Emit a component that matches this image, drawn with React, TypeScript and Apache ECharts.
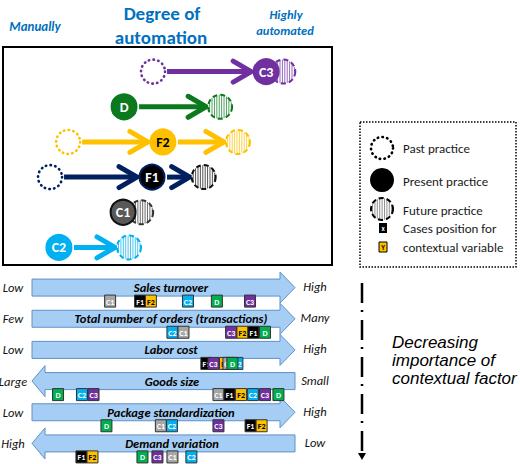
import React, { useEffect, useRef } from 'react';
import * as echarts from 'echarts';

// 自动化程度：0 = 手工，100 = 高度自动化
const automationCases = ['C3', 'D', 'F2', 'F1', 'C1', 'C2'];
const pastPractice = [45.6, null, 19.8, 14.3, null, null];
const presentPractice = [80, 36.8, 48.6, 45.3, 36.5, 17];
const futurePractice = [85.2, 66, 71.4, 61, 42, 38.3];

// 情境因素（箭头）
const factors = [
  'Sales turnover',
  'Total number of orders (transactions)',
  'Labor cost',
  'Goods size',
  'Package standardization',
  'Demand variation',
];
const factorLeftLabel = ['Low', 'Few', 'Low', 'Large', 'Low', 'High'];
const factorRightLabel = ['High', 'Many', 'High', 'Small', 'High', 'Low'];
const factorPointsLeft = [false, false, false, true, false, true];

// 各案例在情境因素箭头上的位置（0..100，从左到右），按绘制顺序
const salesTurnover: [string, number][] = [['C1', 29.7], ['F1', 41.1], ['F2', 45.2], ['C2', 59.3], ['D', 70.3], ['C3', 82.9]];
const orderCount: [string, number][] = [['C2', 53.4], ['C1', 57.6], ['C3', 75.7], ['F2', 80], ['F1', 84.2], ['D', 88.6]];
const laborCost: [string, number][] = [['F1', 66.3], ['C3', 69], ['F2', 73.4], ['C1', 74.7], ['C2', 78.1], ['D', 76.2]];
const goodsSize: [string, number][] = [['D', 9.9], ['C2', 19], ['C3', 23.4], ['C1', 70.9], ['F1', 75.1], ['F2', 79.5], ['C2', 84], ['C3', 88.6], ['D', 93.7]];
const packageStandard: [string, number][] = [['D', 28.3], ['C1', 49], ['C2', 53.2], ['C3', 70.9], ['F1', 83.1], ['F2', 87.3]];
const demandVariation: [string, number][] = [['F1', 18.8], ['F2', 23], ['D', 42], ['C3', 47.7], ['C1', 53.4], ['C2', 60.6]];
const casePositions = [salesTurnover, orderCount, laborCost, goodsSize, packageStandard, demandVariation];

const CAL = 'Carlito, Lato, sans-serif';
const BLUE = '#0070C0';

const caseFill: Record<string, string> = { C1: '#595959', C2: '#00B0F0', C3: '#7030A0', D: '#0B7A1F', F1: '#000000', F2: '#FFC000' };
const caseBorder: Record<string, string> = { C1: '#111111', C2: '#00B0F0', C3: '#7030A0', D: '#0B7A1F', F1: '#002060', F2: '#FFC000' };
const arrowColor: Record<string, string> = { C1: '#595959', C2: '#00B0F0', C3: '#7030A0', D: '#0B7A1F', F1: '#002060', F2: '#FFC000' };
const futureColor: Record<string, string> = { C1: '#333333', C2: '#00B0F0', C3: '#7030A0', D: '#0B7A1F', F1: '#111111', F2: '#FFC000' };
const badgeFill: Record<string, string> = { C1: '#A6A6A6', C2: '#00B0F0', C3: '#7030A0', D: '#00B050', F1: '#000000', F2: '#FFC000' };

const badgeCases: string[] = [];
const badgeData: number[][] = [];
casePositions.forEach((list, row) => {
  list.forEach(([c, pos]) => {
    badgeCases.push(c);
    badgeData.push([pos, row]);
  });
});

const stripedCircle = (cx: number, cy: number, r: number, stripe: string, outline: string) => {
  const kids: any[] = [{ type: 'circle', shape: { cx, cy, r }, style: { fill: '#fff' } }];
  for (let dx = -r + 1.5; dx < r - 0.5; dx += 2.4) {
    const h = Math.sqrt(r * r - dx * dx);
    kids.push({
      type: 'line',
      shape: { x1: cx + dx, y1: cy - h, x2: cx + dx, y2: cy + h },
      style: { stroke: stripe, lineWidth: 0.9, opacity: 0.8 },
    });
  }
  kids.push({ type: 'circle', shape: { cx, cy, r }, style: { fill: 'none', stroke: outline, lineWidth: 2, lineDash: [5, 3] } });
  return kids;
};

const dottedCircle = (cx: number, cy: number, r: number, color: string) => ({
  type: 'circle',
  shape: { cx, cy, r },
  style: { fill: '#fff', stroke: color, lineWidth: 2.6, lineDash: [0.5, 4.2], lineCap: 'round' },
});

const txt = (text: string, x: number, y: number, font: string, fill: string, align = 'center') => ({
  type: 'text',
  style: { text, x, y, font, fill, textAlign: align, align, textVerticalAlign: 'middle', verticalAlign: 'middle' },
});

// 顶部：各案例的过去/现在/未来实践
const renderCase = (params: any, api: any) => {
  const i = params.dataIndex;
  const name = automationCases[i];
  const y = api.coord([0, i])[1];
  const stages: { x: number; r: number }[] = [];
  const past = pastPractice[i];
  const pastX = past == null ? null : api.coord([past, i])[0];
  const presentX = api.coord([presentPractice[i], i])[0];
  const futureX = api.coord([futurePractice[i], i])[0];
  if (pastX != null) stages.push({ x: pastX, r: 12 });
  stages.push({ x: presentX, r: 13 });
  stages.push({ x: futureX, r: 12 });
  const children: any[] = [];
  const col = arrowColor[name];
  for (let k = 0; k < stages.length - 1; k++) {
    const start = stages[k].x + stages[k].r + 2;
    const tip = stages[k + 1].x - stages[k + 1].r - 2;
    if (tip - start < 20) continue;
    children.push({ type: 'line', shape: { x1: start, y1: y, x2: tip - 3, y2: y }, style: { stroke: col, lineWidth: 5 } });
    children.push({
      type: 'polyline',
      shape: { points: [[tip - 18, y - 10.5], [tip, y], [tip - 18, y + 10.5]] },
      style: { stroke: col, lineWidth: 5, fill: 'none', lineJoin: 'miter', lineCap: 'round' },
    });
  }
  if (pastX != null) children.push(dottedCircle(pastX, y, 12, col));
  children.push(...stripedCircle(futureX, y, 12, futureColor[name], futureColor[name]));
  children.push({ type: 'circle', shape: { cx: presentX, cy: y, r: 12.5 }, style: { fill: caseFill[name], stroke: caseBorder[name], lineWidth: 2 } });
  children.push(txt(name, presentX, y + 0.5, `bold 14px ${CAL}`, name === 'F2' ? '#000' : '#fff'));
  return { type: 'group', children };
};

// 底部：情境因素箭头
const renderFactor = (params: any, api: any) => {
  const i = params.dataIndex;
  const [x0, y] = api.coord([0, i]);
  const x1 = api.coord([100, i])[0];
  const bh = 8.5;
  const hh = 15.5;
  let pts: number[][];
  let mid: number;
  if (factorPointsLeft[i]) {
    const hb = x0 + 13;
    pts = [[x1, y - bh], [hb, y - bh], [hb, y - hh], [x0, y], [hb, y + hh], [hb, y + bh], [x1, y + bh]];
    mid = (hb + x1) / 2 + 2;
  } else {
    const hb = x1 - 15;
    pts = [[x0, y - bh], [hb, y - bh], [hb, y - hh], [x1, y], [hb, y + hh], [hb, y + bh], [x0, y + bh]];
    mid = (x0 + hb) / 2 + 15;
  }
  return {
    type: 'group',
    children: [
      { type: 'polygon', shape: { points: pts }, style: { fill: '#A6CDF3', stroke: '#5E92C9', lineWidth: 1 } },
      txt(factors[i], mid, y, `italic bold 12.5px ${CAL}`, '#000'),
      txt(factorLeftLabel[i], x0 - 19, y, `italic 12.5px ${CAL}`, '#111'),
      txt(factorRightLabel[i], x1 + 20, y - 1, `italic 12.5px ${CAL}`, '#111'),
    ],
  };
};

// 案例位置小方块
const renderBadge = (params: any, api: any) => {
  const name = badgeCases[params.dataIndex];
  const [x, y0] = api.coord([api.value(0), api.value(1)]);
  const y = y0 + 13.5;
  return {
    type: 'group',
    children: [
      { type: 'rect', shape: { x: x - 5.5, y: y - 6, width: 11, height: 12 }, style: { fill: badgeFill[name], stroke: '#333', lineWidth: 1 } },
      txt(name, x, y + 0.5, `bold 8px ${CAL}`, name === 'F2' ? '#000' : '#fff'),
    ],
  };
};

const getOption = () => ({
  animation: false,
  backgroundColor: '#fff',
  grid: [
    { left: 3, top: 47, width: 329, height: 218, show: true, borderColor: '#000', borderWidth: 2, backgroundColor: 'transparent' },
    { left: 32, top: 272, width: 263, height: 187 },
  ],
  xAxis: [
    { type: 'value', gridIndex: 0, min: 0, max: 100, show: false },
    { type: 'value', gridIndex: 1, min: 0, max: 100, show: false },
  ],
  yAxis: [
    { type: 'value', gridIndex: 0, min: -0.7, max: 5.5, inverse: true, show: false },
    { type: 'category', gridIndex: 1, data: factors, inverse: true, show: false },
  ],
  series: [
    {
      type: 'custom',
      xAxisIndex: 0,
      yAxisIndex: 0,
      data: automationCases.map((_, i) => [presentPractice[i], i]),
      renderItem: renderCase,
    },
    {
      type: 'custom',
      xAxisIndex: 1,
      yAxisIndex: 1,
      data: factors.map((_, i) => [0, i]),
      renderItem: renderFactor,
    },
    {
      type: 'custom',
      xAxisIndex: 1,
      yAxisIndex: 1,
      data: badgeData,
      renderItem: renderBadge,
    },
  ],
  graphic: [
    txt('Manually', 35, 26, `italic bold 13px ${CAL}`, BLUE),
    txt('Degree of', 162, 13, `bold 19px ${CAL}`, BLUE),
    txt('automation', 161, 37, `bold 19px ${CAL}`, BLUE),
    txt('Highly', 286, 14, `italic bold 12.5px ${CAL}`, BLUE),
    txt('automated', 285, 30, `italic bold 12.5px ${CAL}`, BLUE),
    // 图例
    { type: 'rect', shape: { x: 360, y: 122, width: 156, height: 145 }, style: { fill: '#fff', stroke: '#000', lineWidth: 1.5, lineDash: [1.5, 1.5] } },
    dottedCircle(382, 148, 11, '#000'),
    { type: 'circle', shape: { cx: 382, cy: 180, r: 12 }, style: { fill: '#000' } },
    { type: 'group', children: stripedCircle(382, 209, 11, '#666', '#000') },
    { type: 'rect', shape: { x: 379, y: 223, width: 8, height: 10 }, style: { fill: '#000' } },
    txt('x', 383, 228, `bold 7px ${CAL}`, '#fff'),
    { type: 'rect', shape: { x: 379, y: 242, width: 8, height: 10 }, style: { fill: '#FFC000', stroke: '#000', lineWidth: 1 } },
    txt('Y', 383, 247, `bold 7px ${CAL}`, '#000'),
    txt('Past practice', 403, 148, `13px ${CAL}`, '#1a1a1a', 'left'),
    txt('Present practice', 403, 181, `13px ${CAL}`, '#1a1a1a', 'left'),
    txt('Future practice', 403, 210, `13px ${CAL}`, '#1a1a1a', 'left'),
    txt('Cases position for', 403, 228, `13px ${CAL}`, '#1a1a1a', 'left'),
    txt('contextual variable', 403, 247, `13px ${CAL}`, '#1a1a1a', 'left'),
    // 重要性递减
    { type: 'line', shape: { x1: 362, y1: 283, x2: 362, y2: 453 }, style: { stroke: '#000', lineWidth: 2.5, lineDash: [20, 7, 2, 8] } },
    { type: 'polygon', shape: { points: [[358, 453], [366, 453], [362, 460]] }, style: { fill: '#000' } },
    {
      type: 'text',
      style: {
        text: 'Decreasing\nimportance of\ncontextual factor',
        x: 392,
        y: 333,
        font: 'italic 17px "Liberation Sans", Arial, sans-serif',
        lineHeight: 18,
        fill: '#000',
        textAlign: 'left',
        align: 'left',
        textVerticalAlign: 'top',
        verticalAlign: 'top',
      },
    },
  ],
});

const App = () => {
  const chartRef = useRef<HTMLDivElement>(null);

  useEffect(() => {
    if (!chartRef.current) return;
    const chart = echarts.init(chartRef.current, undefined, { renderer: 'svg' });
    chart.setOption(getOption() as any);
    return () => {
      chart.dispose();
    };
  }, []);

  return (
    <div
      ref={chartRef}
      style={{ position: 'absolute', left: 0, top: 0, width: 520, height: 464, background: '#fff' }}
    />
  );
};

export default App;
